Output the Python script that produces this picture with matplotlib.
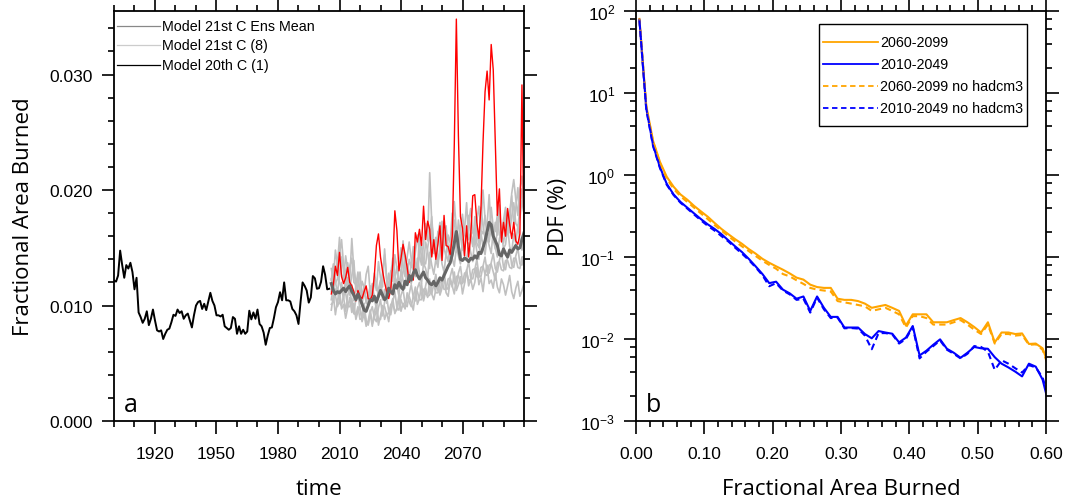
import numpy as np
import matplotlib
matplotlib.use('Agg')
import matplotlib.pyplot as plt
from matplotlib.patches import Rectangle
from matplotlib.ticker import LogLocator, FixedLocator, FormatStrFormatter

plt.rcParams['font.family'] = ['Liberation Sans', 'DejaVu Sans']
plt.rcParams['mathtext.default'] = 'regular'

# ---------------- panel a data (fractional area burned, x 1e-3) ----------------
years_20c = np.arange(1900, 2006)
burn_20c = np.array([
    12.16, 12.07, 12.6, 14.75, 13.5, 12.4, 13.5, 13.2, 13.7, 12.9,
    11.4, 12.4, 9.4, 9.0, 8.5, 8.85, 9.5, 8.3, 8.85, 9.65,
    8.7, 7.85, 7.75, 7.85, 7.1, 7.55, 7.9, 8.0, 8.55, 9.2,
    9.1, 9.65, 9.35, 9.5, 8.85, 9.15, 9.3, 8.7, 8.1, 9.15,
    10.0, 10.3, 10.4, 9.7, 10.15, 9.6, 10.35, 11.1, 10.4, 10.0,
    9.15, 9.15, 9.05, 9.2, 8.2, 8.05, 7.9, 8.05, 9.0, 8.85,
    7.55, 8.2, 7.55, 7.9, 7.55, 7.75, 9.55, 8.8, 9.4, 8.85,
    9.65, 8.4, 8.2, 7.65, 6.6, 7.4, 8.05, 8.1, 8.9, 9.85,
    10.3, 11.15, 10.45, 12.0, 10.45, 10.45, 10.35, 9.7, 9.5, 9.15,
    8.4, 10.3, 12.0, 11.7, 11.3, 10.25, 10.7, 12.55, 12.35, 11.45,
    11.5, 12.05, 13.4, 12.65, 11.4, 11.45]) * 1e-3

years_21c = np.arange(2006, 2101)

# highlighted model (red)
burn_red = np.array([
    11.0, 11.8, 13.4, 12.6, 14.6, 12.5, 11.9, 12.4, 13.3, 12.0,
    11.7, 11.2, 10.4, 11.3, 10.8, 10.6, 11.2, 11.7, 10.6, 10.5,
    10.9, 12.6, 15.2, 16.2, 14.2, 13.0, 12.0, 11.2, 10.6, 11.4,
    13.6, 18.2, 16.5, 13.0, 14.1, 15.3, 14.4, 13.3, 12.0, 12.6,
    12.2, 16.3, 15.5, 16.6, 15.2, 18.6, 15.7, 17.3, 16.6, 14.2,
    15.7, 14.0, 15.3, 16.9, 13.9, 17.8, 15.2, 15.1, 14.4, 16.0,
    24.0, 34.8, 24.7, 17.7, 16.7, 14.3, 16.9, 14.2, 16.0, 19.5,
    19.6, 17.2, 15.8, 18.4, 24.1, 28.5, 30.3, 27.8, 32.6, 30.4,
    24.1, 17.8, 20.1, 15.5, 17.2, 16.0, 18.4, 17.0, 15.8, 17.2,
    15.6, 15.3, 16.2, 29.1, 16.0]) * 1e-3

# ensemble mean
burn_mean = np.array([
    11.9, 11.3, 11.0, 11.2, 11.1, 11.3, 11.5, 11.2, 11.5, 11.7,
    11.2, 10.9, 10.5, 11.0, 10.6, 10.1, 9.6, 9.5, 10.0, 10.5,
    10.4, 10.8, 10.3, 10.8, 11.3, 10.9, 10.5, 10.7, 11.5, 11.2,
    11.0, 11.8, 11.5, 12.0, 11.6, 11.4, 12.1, 11.8, 12.6, 12.2,
    12.8, 13.1, 12.6, 12.3, 12.6, 12.9, 12.4, 12.2, 11.9, 11.8,
    12.1, 11.7, 12.0, 12.4, 12.2, 12.6, 13.0, 13.4, 13.7, 14.4,
    15.4, 16.4, 15.1, 14.0, 13.9, 14.1, 14.0, 13.8, 14.1, 14.0,
    14.3, 14.1, 14.6, 14.5, 15.0, 15.6, 16.4, 17.2, 17.0, 16.0,
    15.6, 15.2, 14.4, 14.3, 14.9, 14.5, 14.2, 14.8, 14.6, 14.9,
    15.2, 14.9, 15.0, 15.7, 16.3]) * 1e-3

# remaining 21st century models (light gray)
burn_g1 = [13.2, 12.1, 14.8, 13.5, 15.9, 12.7, 12.2, 14.3, 13.1, 11.4,
           12.6, 13.9, 11.2, 11.8, 12.9, 10.6, 11.1, 12.7, 13.4, 11.0,
           10.5, 12.2, 11.3, 13.8, 12.4, 11.6, 14.9, 12.3, 11.7, 13.0,
           12.1, 14.4, 13.2, 11.9, 12.7, 15.6, 13.0, 12.4, 14.0, 13.3,
           15.1, 13.6, 12.8, 16.2, 14.1, 13.4, 15.5, 14.7, 13.2, 16.8,
           14.5, 15.9, 13.8, 14.6, 17.3, 15.0, 14.2, 16.1, 15.4, 18.0,
           15.6, 14.9, 17.4, 16.0, 14.8, 16.6, 18.9, 15.7, 16.3, 15.1,
           17.7, 16.2, 15.4, 18.5, 16.9, 15.8, 17.0, 19.6, 16.4, 15.9,
           17.2, 16.1, 18.7, 15.6, 16.8, 17.9, 16.3, 18.1, 19.5, 17.0,
           18.4, 20.2, 17.6, 19.1, 18.0]
burn_g2 = [9.6, 10.9, 9.2, 10.4, 11.3, 9.7, 10.1, 8.9, 9.8, 10.7,
           9.4, 10.2, 8.8, 9.5, 9.9, 8.6, 9.3, 8.2, 8.7, 9.6,
           8.4, 8.9, 9.7, 8.3, 9.1, 10.0, 8.8, 9.4, 8.6, 9.9,
           10.6, 9.3, 9.8, 10.9, 9.5, 10.2, 9.7, 11.1, 10.3, 9.9,
           10.8, 11.6, 10.1, 10.6, 11.9, 10.4, 11.2, 10.7, 12.3, 11.0,
           10.5, 11.4, 12.0, 10.9, 11.5, 12.6, 11.1, 10.8, 12.2, 11.6,
           12.9, 11.3, 11.8, 12.5, 11.0, 11.9, 13.1, 11.7, 12.3, 11.4,
           12.0, 13.3, 11.8, 12.4, 11.2, 12.7, 13.5, 11.9, 12.2, 11.5,
           12.8, 11.6, 11.1, 12.3, 11.8, 10.9, 11.7, 12.6, 11.2, 10.6,
           11.5, 12.1, 10.8, 11.3, 11.9]
burn_g3 = [11.2, 13.4, 12.1, 11.0, 12.8, 14.2, 13.0, 11.5, 12.4, 10.9,
           11.8, 10.4, 11.6, 12.5, 10.8, 10.1, 11.3, 10.6, 9.9, 10.8,
           11.9, 10.6, 9.7, 11.2, 12.0, 10.5, 11.4, 10.2, 11.8, 12.6,
           11.1, 12.3, 11.7, 10.8, 13.1, 12.2, 11.5, 13.6, 12.4, 11.9,
           13.0, 12.5, 14.1, 12.8, 11.9, 13.7, 13.2, 12.4, 14.6, 13.5,
           12.7, 14.0, 13.3, 15.2, 13.6, 12.9, 14.5, 13.8, 15.3, 14.1,
           13.4, 15.0, 14.3, 13.6, 15.7, 14.2, 13.9, 15.4, 14.6, 13.8,
           15.9, 14.7, 14.0, 16.3, 15.1, 14.4, 16.0, 15.2, 14.5, 16.6,
           15.0, 14.2, 15.8, 16.4, 14.9, 15.3, 16.8, 15.1, 14.6, 16.2,
           15.4, 16.9, 15.7, 14.8, 16.0]
burn_g4 = [12.3, 11.1, 12.7, 13.9, 12.0, 11.4, 10.6, 12.5, 13.7, 12.2,
           15.8, 13.1, 12.0, 11.3, 10.5, 12.1, 11.6, 10.3, 10.9, 11.7,
           10.4, 12.8, 11.9, 10.7, 11.5, 12.9, 14.4, 12.2, 11.3, 12.7,
           14.1, 12.6, 11.8, 13.4, 15.0, 13.3, 12.5, 14.2, 15.5, 14.0,
           12.9, 14.6, 16.1, 14.4, 13.5, 15.3, 17.1, 15.6, 21.5, 17.2,
           15.5, 14.3, 16.4, 15.0, 13.9, 15.8, 16.9, 14.7, 14.1, 15.6,
           19.0, 16.5, 15.2, 16.9, 15.1, 14.8, 16.2, 17.8, 16.0, 15.3,
           16.7, 15.4, 15.0, 17.1, 20.0, 17.5, 16.3, 15.5, 16.9, 15.7,
           14.9, 16.6, 17.9, 16.2, 15.4, 16.7, 18.1, 16.9, 19.7, 20.9,
           19.2, 17.8, 20.1, 21.2, 18.6]
burn_g5 = [10.5, 11.7, 10.9, 9.9, 10.4, 12.0, 10.7, 9.5, 10.9, 11.5,
           10.1, 9.3, 10.6, 11.0, 9.6, 9.0, 10.2, 8.7, 8.3, 9.4,
           9.9, 8.9, 8.6, 9.8, 10.5, 9.1, 10.3, 10.8, 9.5, 9.2,
           10.3, 11.2, 9.8, 9.6, 10.9, 11.4, 10.1, 9.9, 11.0, 11.8,
           10.7, 10.4, 11.5, 12.0, 10.9, 10.6, 11.7, 12.5, 11.2, 11.0,
           11.9, 12.7, 11.3, 11.1, 12.2, 12.9, 11.6, 11.4, 12.5, 13.2,
           12.0, 11.7, 12.8, 13.4, 12.1, 12.0, 13.0, 13.8, 12.4, 12.3,
           13.1, 14.0, 12.6, 12.5, 13.4, 14.2, 12.9, 12.8, 13.7, 14.5,
           13.2, 12.9, 13.9, 14.7, 13.3, 13.1, 14.2, 14.9, 13.5, 13.3,
           14.3, 15.0, 13.6, 13.5, 14.4]
burn_g6 = [12.2, 13.6, 11.9, 12.3, 14.4, 15.7, 13.5, 12.9, 11.6, 13.4,
           14.1, 12.0, 11.8, 12.9, 11.0, 10.9, 11.7, 10.2, 10.1, 11.2,
           11.3, 10.7, 10.0, 11.4, 12.2, 10.8, 10.6, 11.7, 12.8, 11.2,
           11.0, 12.3, 13.4, 11.8, 11.7, 13.0, 14.1, 12.5, 12.3, 13.6,
           14.5, 13.1, 12.9, 14.3, 15.4, 13.8, 13.6, 15.0, 16.1, 17.7,
           14.9, 14.8, 16.1, 17.2, 15.2, 15.0, 16.4, 14.9, 14.8, 16.3,
           17.4, 15.5, 15.3, 16.7, 17.9, 16.1, 15.9, 17.2, 18.4, 16.3,
           16.0, 17.4, 18.6, 16.5, 16.2, 17.8, 16.3, 16.0, 18.5, 16.7,
           16.4, 17.9, 16.1, 15.9, 17.4, 18.5, 16.6, 16.3, 17.7, 18.9,
           17.1, 16.8, 18.3, 20.1, 17.9]
burn_g7 = [10.1, 10.3, 11.4, 11.5, 10.2, 10.0, 10.9, 11.1, 9.9, 9.9,
           10.6, 9.3, 9.2, 9.9, 8.8, 8.9, 9.7, 8.5, 8.4, 9.3,
           8.2, 9.5, 10.1, 8.8, 8.8, 9.8, 9.9, 9.2, 9.3, 10.1,
           10.1, 9.5, 9.6, 10.5, 10.5, 9.9, 9.9, 10.8, 10.8, 10.2,
           9.6, 11.1, 11.2, 10.5, 10.5, 11.4, 11.5, 10.8, 10.9, 11.8,
           11.8, 11.1, 11.1, 12.0, 12.1, 11.4, 11.4, 12.3, 12.4, 11.7,
           11.0, 12.5, 12.6, 11.9, 11.9, 12.8, 12.9, 12.2, 12.2, 13.1,
           13.2, 12.5, 12.4, 13.3, 13.4, 12.7, 12.6, 13.5, 13.6, 12.9,
           12.2, 13.7, 13.8, 13.1, 13.0, 13.9, 13.9, 13.3, 13.2, 14.1,
           14.1, 13.3, 13.2, 14.2, 14.2]
gray_models = [burn_g1, burn_g2, burn_g3, burn_g4, burn_g5, burn_g6, burn_g7]

# ---------------- panel b data (PDF in %) ----------------
bin_centers = np.arange(0.005, 0.61, 0.01)
pdf_late = [80, 7.0, 2.6, 1.45, 0.95, 0.72, 0.58, 0.50, 0.42, 0.36,
            0.31, 0.26, 0.22, 0.19, 0.165, 0.145, 0.125, 0.11, 0.095, 0.085,
            0.077, 0.070, 0.063, 0.056, 0.053, 0.046, 0.043, 0.042, 0.042, 0.031,
            0.030, 0.030, 0.029, 0.027, 0.024, 0.025, 0.026, 0.024, 0.022, 0.0146,
            0.020, 0.020, 0.020, 0.016, 0.016, 0.016, 0.017, 0.018, 0.016, 0.014,
            0.012, 0.016, 0.0091, 0.012, 0.012, 0.0115, 0.0117, 0.0087, 0.0088, 0.0077,
            0.0045]
pdf_early = [78, 6.5, 2.3, 1.25, 0.78, 0.58, 0.47, 0.40, 0.34, 0.29,
             0.25, 0.22, 0.19, 0.16, 0.135, 0.115, 0.095, 0.077, 0.062, 0.048,
             0.050, 0.040, 0.036, 0.031, 0.033, 0.022, 0.033, 0.024, 0.0186, 0.0186,
             0.0138, 0.0138, 0.0138, 0.0115, 0.0102, 0.0125, 0.0120, 0.0116, 0.0091, 0.0104,
             0.0144, 0.0063, 0.0072, 0.0085, 0.0099, 0.0076, 0.0068, 0.0059, 0.0068, 0.0080,
             0.0077, 0.0076, 0.0060, 0.0050, 0.0045, 0.0040, 0.0035, 0.0050, 0.0046, 0.0032,
             0.0015]
pdf_late_nohad = [79, 6.8, 2.55, 1.40, 0.90, 0.68, 0.55, 0.47, 0.40, 0.34,
                  0.29, 0.245, 0.21, 0.18, 0.155, 0.135, 0.118, 0.103, 0.090, 0.080,
                  0.072, 0.062, 0.058, 0.052, 0.047, 0.042, 0.040, 0.039, 0.038, 0.029,
                  0.028, 0.027, 0.026, 0.025, 0.022, 0.023, 0.024, 0.022, 0.020, 0.0138,
                  0.019, 0.019, 0.018, 0.015, 0.015, 0.015, 0.016, 0.017, 0.015, 0.013,
                  0.0115, 0.015, 0.0088, 0.0115, 0.0115, 0.011, 0.0112, 0.0085, 0.0086, 0.0074,
                  0.0042]
pdf_early_nohad = [77, 6.3, 2.25, 1.22, 0.76, 0.57, 0.46, 0.39, 0.33, 0.28,
                   0.24, 0.21, 0.18, 0.155, 0.13, 0.11, 0.092, 0.075, 0.060, 0.044,
                   0.048, 0.039, 0.035, 0.030, 0.031, 0.021, 0.032, 0.023, 0.0180, 0.0182,
                   0.0135, 0.0136, 0.0134, 0.0110, 0.0075, 0.0118, 0.0118, 0.0114, 0.0088, 0.0100,
                   0.0140, 0.0058, 0.0070, 0.0082, 0.0096, 0.0074, 0.0066, 0.0058, 0.0066, 0.0082,
                   0.0080, 0.0070, 0.0042, 0.0055, 0.0050, 0.0044, 0.0039, 0.0048, 0.0045, 0.0034,
                   0.0018]

ORANGE = '#FFA500'
BLUE = '#0000FF'
label_font = ['Open Sans', 'DejaVu Sans']

fig = plt.figure(figsize=(10.66, 5.02), dpi=100)
W, H = 1066, 502
ax1 = fig.add_axes([114 / W, (H - 422) / H, 410 / W, 410 / H])
ax2 = fig.add_axes([636 / W, (H - 422) / H, 410 / W, 410 / H])


def style_axis(ax):
    for s in ax.spines.values():
        s.set_linewidth(1.3)
    ax.tick_params(which='both', direction='out', top=True, right=True,
                   labelsize=12.5, width=1.2, pad=6)
    ax.tick_params(axis='x', which='both', pad=9)
    ax.tick_params(which='major', length=9)
    ax.tick_params(which='minor', length=4.5)


# ---------------- panel a ----------------
ax1.plot(years_20c, burn_20c, color='black', lw=1.4)
for g in gray_models:
    ax1.plot(years_21c, np.array(g) * 1e-3, color='#C0C0C0', lw=1.2)
ax1.plot(years_21c, burn_red, color='#FF0000', lw=1.0)
ax1.plot(years_21c, burn_mean, color='#666666', lw=2.2)

ax1.set_xlim(1900, 2100)
ax1.set_ylim(0, 0.0355)
ax1.xaxis.set_major_locator(FixedLocator([1920, 1950, 1980, 2010, 2040, 2070]))
ax1.xaxis.set_minor_locator(FixedLocator(np.arange(1900, 2101, 10)))
ax1.yaxis.set_major_locator(FixedLocator([0, 0.01, 0.02, 0.03]))
ax1.yaxis.set_minor_locator(FixedLocator(np.arange(0, 0.0356, 0.002)))
ax1.yaxis.set_major_formatter(FormatStrFormatter('%.3f'))
style_axis(ax1)
ax1.set_xlabel('time', fontsize=16, family=label_font, labelpad=12)
ax1.set_ylabel('Fractional Area Burned', fontsize=16, family=label_font, labelpad=11)
ax1.text(0.025, 0.025, 'a', transform=ax1.transAxes, fontsize=18, family=label_font)

# legend drawn by hand (NCL style, no frame)
leg_a = [('Model 21st C Ens Mean', '#888888'),
         ('Model 21st C (8)', '#CCCCCC'),
         ('Model 20th C (1)', 'black')]
for i, (lab, col) in enumerate(leg_a):
    yy = 0.964 - i * 0.048
    ax1.plot([0.007, 0.112], [yy, yy], color=col, lw=0.9, transform=ax1.transAxes)
    ax1.text(0.117, yy, lab, transform=ax1.transAxes, fontsize=10.3, va='center')

# ---------------- panel b ----------------
ax2.plot(bin_centers, pdf_late, color=ORANGE, lw=1.5)
ax2.plot(bin_centers, pdf_early, color=BLUE, lw=1.5)
ax2.plot(bin_centers, pdf_late_nohad, color=ORANGE, lw=1.5, ls=(0, (3, 2)))
ax2.plot(bin_centers, pdf_early_nohad, color=BLUE, lw=1.5, ls=(0, (3, 2)))
ax2.set_yscale('log')
ax2.set_xlim(0, 0.6)
ax2.set_ylim(1e-3, 1e2)
ax2.xaxis.set_major_locator(FixedLocator(np.arange(0, 0.61, 0.1)))
ax2.xaxis.set_minor_locator(FixedLocator(np.arange(0, 0.61, 0.02)))
ax2.xaxis.set_major_formatter(FormatStrFormatter('%.2f'))
ax2.yaxis.set_major_locator(LogLocator(base=10, numticks=10))
ax2.yaxis.set_minor_locator(LogLocator(base=10, subs=(2, 4, 6, 8), numticks=10))
ax2.yaxis.set_minor_formatter(plt.NullFormatter())
style_axis(ax2)
ax2.set_xlabel('Fractional Area Burned', fontsize=16, family=label_font, labelpad=12)
ax2.set_ylabel('PDF (%)', fontsize=16, family=label_font, labelpad=8)
ax2.text(0.025, 0.025, 'b', transform=ax2.transAxes, fontsize=18, family=label_font)

ax2.add_patch(Rectangle((0.446, 0.720), 0.508, 0.248, transform=ax2.transAxes,
                        fill=True, facecolor='white', edgecolor='black', lw=1.0, zorder=5))
leg_b = [('2060-2099', ORANGE, '-'), ('2010-2049', BLUE, '-'),
         ('2060-2099 no hadcm3', ORANGE, (0, (3, 2))),
         ('2010-2049 no hadcm3', BLUE, (0, (3, 2)))]
for i, (lab, col, ls) in enumerate(leg_b):
    yy = 0.925 - i * 0.054
    ax2.plot([0.456, 0.590], [yy, yy], color=col, lw=1.3, ls=ls,
             transform=ax2.transAxes, zorder=6)
    ax2.text(0.595, yy, lab, transform=ax2.transAxes, fontsize=10.3, va='center', zorder=6)

fig.savefig('out.png', dpi=100)
